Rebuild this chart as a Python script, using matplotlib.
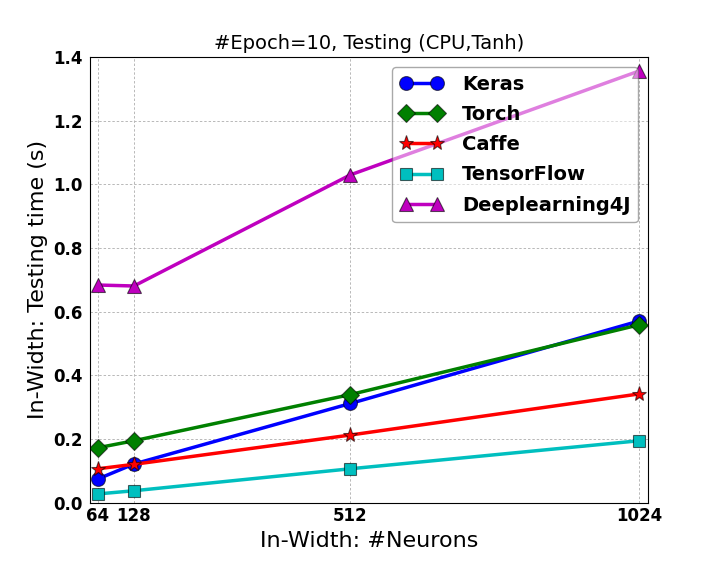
import matplotlib
import matplotlib.pyplot as plt

matplotlib.use("Agg")

neurons = [64, 128, 512, 1024]
keras = [0.075, 0.122, 0.312, 0.571]
torch = [0.173, 0.195, 0.340, 0.559]
caffe = [0.107, 0.121, 0.213, 0.342]
tensorflow = [0.028, 0.038, 0.107, 0.195]
dl4j = [0.684, 0.681, 1.030, 1.356]

series = [
    ("Keras", keras, "b", "o", 10),
    ("Torch", torch, "g", "D", 9),
    ("Caffe", caffe, "r", "*", 11),
    ("TensorFlow", tensorflow, "c", "s", 9),
    ("Deeplearning4J", dl4j, "m", "^", 10),
]

fig = plt.figure(figsize=(7.2, 5.76), dpi=100)
ax = fig.add_axes([0.125, 0.127, 0.775, 0.774])

for name, vals, color, marker, ms in series:
    ax.plot(neurons, vals, color=color, marker=marker, markersize=ms, linewidth=2.5,
            markeredgecolor=(0, 0, 0, 0.6), markeredgewidth=0.8, label=name)

ax.set_xlim(50, 1040)
ax.set_ylim(0, 1.4)
ax.set_xticks(neurons)
ax.set_yticks([0.0, 0.2, 0.4, 0.6, 0.8, 1.0, 1.2, 1.4])
ax.set_yticklabels([f"{v:.1f}" for v in ax.get_yticks()])
for lbl in ax.get_xticklabels() + ax.get_yticklabels():
    lbl.set_fontweight("bold")
    lbl.set_fontsize(12)
ax.tick_params(axis="x", length=0, pad=3)
ax.tick_params(axis="y", length=0, pad=5)
ax.grid(True, linestyle=(0, (2.5, 2)), color="#b8b8b8", linewidth=0.7)

ax.set_xlabel("In-Width: #Neurons", fontsize=16)
ax.set_ylabel("In-Width: Testing time (s)", fontsize=16)
ax.set_title("#Epoch=10, Testing (CPU,Tanh)", fontsize=14)

leg = ax.legend(loc="upper right", prop={"weight": "bold", "size": 14}, framealpha=0.5,
                fancybox=True, numpoints=2, handlelength=2.2, handletextpad=1.0,
                borderaxespad=0.5, labelspacing=0.58, borderpad=0.4)
leg.get_frame().set_edgecolor("#555555")

fig.savefig("out.png", dpi=100)
plt.close(fig)
